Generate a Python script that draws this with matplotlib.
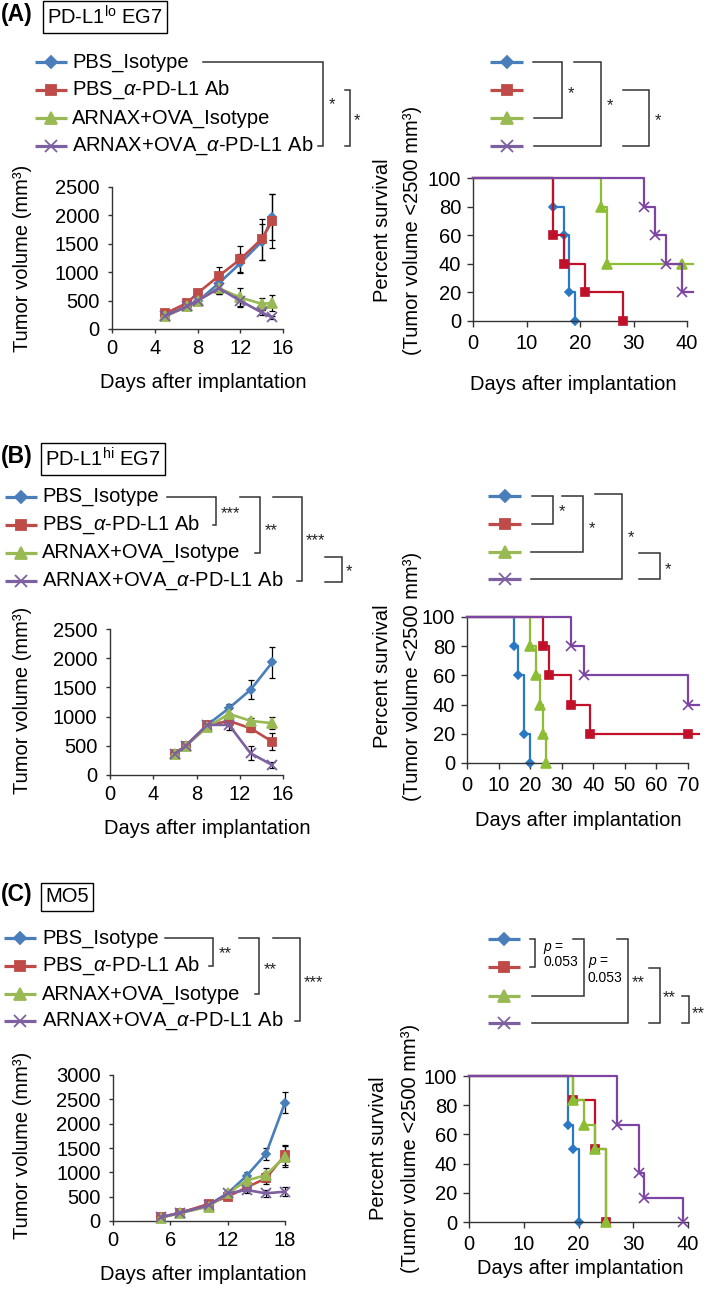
import matplotlib
matplotlib.use("Agg")
import matplotlib.pyplot as plt

plt.rcParams["font.family"] = ["Liberation Sans", "DejaVu Sans"]
plt.rcParams["mathtext.fontset"] = "custom"
plt.rcParams["mathtext.rm"] = "Liberation Sans"
plt.rcParams["mathtext.it"] = "Liberation Sans:italic"
plt.rcParams["mathtext.bf"] = "Liberation Sans:bold"

W, H = 709, 1289
FS = 14.5
INK = "#333333"

GROUPS = [
    "PBS_Isotype",
    "PBS_$\\alpha$-PD-L1 Ab",
    "ARNAX+OVA_Isotype",
    "ARNAX+OVA_$\\alpha$-PD-L1 Ab",
]
TUMOR_COLORS = ["#4A7EBB", "#BE4B48", "#98B954", "#7D60A0"]
SURV_COLORS = ["#2A78C4", "#C0102A", "#8CBD34", "#7D45A3"]
MARKERS = ["D", "s", "^", "x"]
MSIZE = [4.5, 6, 6.5, 6.5]

# ---- (A) PD-L1 lo EG7 ----
days_a = [5, 7, 8, 10, 12, 14, 15]
vol_a = [
    [240, 385, 485, 806, 1157, 1536, 1974],
    [275, 455, 630, 935, 1227, 1583, 1900],
    [222, 397, 497, 718, 555, 444, 455],
    [230, 400, 497, 718, 497, 292, 204],
]
err_a = [
    [30, 40, 60, 170, 170, 320, 410],
    [30, 50, 70, 160, 230, 360, 480],
    [25, 40, 50, 100, 160, 110, 145],
    [25, 40, 50, 100, 90, 50, 30],
]
surv_days_a = [[15, 17, 18, 19], [15, 17, 21, 28], [24, 25], [32, 34, 36, 39]]
surv_pct_a = [[80, 60, 20, 0], [60, 40, 20, 0], [80, 40], [80, 60, 40, 20]]
censor_a = [[], [], [39], []]

# ---- (B) PD-L1 hi EG7 ----
days_b = [6, 7, 9, 11, 13, 15]
vol_b = [
    [360, 498, 858, 1144, 1459, 1928],
    [360, 500, 850, 927, 800, 572],
    [360, 498, 818, 1047, 927, 887],
    [365, 495, 858, 858, 372, 172],
]
err_b = [
    [30, 40, 60, 80, 160, 270],
    [30, 40, 60, 90, 70, 150],
    [30, 40, 50, 90, 50, 100],
    [30, 40, 60, 90, 120, 55],
]
surv_days_b = [[15, 16, 18, 20], [24, 26, 33, 39], [20, 22, 23, 24, 25], [33, 37, 70]]
surv_pct_b = [[80, 60, 20, 0], [80, 60, 40, 20], [80, 60, 40, 20, 0], [80, 60, 40]]
censor_b = [[], [70], [], []]

# ---- (C) MO5 ----
days_c = [5, 7, 10, 12, 14, 16, 18]
vol_c = [
    [75, 171, 329, 568, 932, 1377, 2432],
    [75, 165, 350, 500, 692, 877, 1356],
    [70, 160, 295, 568, 829, 945, 1322],
    [75, 165, 320, 568, 637, 568, 603],
]
err_c = [
    [15, 25, 40, 50, 70, 130, 220],
    [15, 25, 40, 50, 80, 120, 200],
    [15, 25, 40, 50, 70, 150, 220],
    [15, 25, 40, 50, 70, 70, 90],
]
surv_days_c = [[18, 19, 20], [19, 23, 25], [19, 21, 23, 25], [27, 31, 32, 39]]
surv_pct_c = [[66.7, 50, 0], [83.3, 50, 0], [83.3, 66.7, 50, 0], [66.7, 33.3, 16.7, 0]]
censor_c = [[], [], [], []]


def px_axes(fig, x0, y0, x1, y1):
    return fig.add_axes([x0 / W, 1 - y1 / H, (x1 - x0) / W, (y1 - y0) / H])


def style_axes(ax, length, padx, pady):
    for side in ("top", "right"):
        ax.spines[side].set_visible(False)
    for side in ("left", "bottom"):
        ax.spines[side].set_color(INK)
        ax.spines[side].set_linewidth(1.0)
    ax.tick_params(direction="out", length=length, width=1.0, color=INK, labelsize=FS)
    ax.tick_params(axis="x", pad=padx)
    ax.tick_params(axis="y", pad=pady)
    ax.patch.set_visible(False)


def tumor_panel(ax, days, vols, errs, xmax, xticks, ymax):
    for i, (v, e) in enumerate(zip(vols, errs)):
        ax.errorbar(days, v, yerr=e, fmt="none", ecolor="black", elinewidth=0.9,
                    capsize=2.3, capthick=0.9, zorder=2, clip_on=False)
    for i, v in enumerate(vols):
        ax.plot(days, v, color=TUMOR_COLORS[i], lw=1.9, marker=MARKERS[i],
                ms=MSIZE[i], mew=1.3, zorder=3 + i, clip_on=False)
    ax.set_xlim(0, xmax)
    ax.set_ylim(0, ymax)
    ax.set_xticks(xticks)
    ax.set_yticks(range(0, ymax + 1, 500))
    style_axes(ax, 3, 4.5, 6)


def survival_panel(ax, sdays, spct, censor, xmax, xend, xstep):
    for i in range(4):
        d, p = list(sdays[i]), list(spct[i])
        xs, ys = [0] + d, [100] + p
        if p[-1] > 0:
            xs.append(xend)
            ys.append(p[-1])
        ax.step(xs, ys, where="post", color=SURV_COLORS[i], lw=1.6,
                zorder=2 + i, clip_on=False)
        ax.plot(d, p, ls="none", color=SURV_COLORS[i], marker=MARKERS[i],
                ms=MSIZE[i], mew=1.2, zorder=2 + i, clip_on=False)
        if censor[i]:
            ax.plot(censor[i], [p[-1]] * len(censor[i]), ls="none",
                    color=SURV_COLORS[i], marker=MARKERS[i], ms=MSIZE[i],
                    mew=1.2, zorder=2 + i, clip_on=False)
    ax.set_xlim(0, xmax)
    ax.set_ylim(0, 100)
    ax.set_xticks(range(0, xmax + 1, xstep))
    ax.set_yticks(range(0, 101, 20))
    style_axes(ax, 4.5, 5, 4)


def legend_key(ov, x0, x1, y, i):
    ov.plot([x0, x1], [y, y], color=TUMOR_COLORS[i], lw=2.3, solid_capstyle="butt")
    ov.plot([(x0 + x1) / 2], [y], color=TUMOR_COLORS[i], marker=MARKERS[i],
            ms=MSIZE[i] + 1.5, mew=1.3)


def bracket(ov, pts):
    xs, ys = zip(*pts)
    ov.plot(xs, ys, color=INK, lw=1.1, solid_joinstyle="miter")


def stars(ov, x, y, s):
    ov.text(x, y + 4, s, fontsize=12, ha="left", va="center", color="#222222")


def panel_tag(ov, y, tag, box_text, box_x):
    ov.text(1, y, tag, fontsize=16.5, fontweight="bold", ha="left", va="center")
    ov.text(box_x, y + 2, box_text, fontsize=FS, ha="left", va="center",
            bbox=dict(boxstyle="square,pad=0.22", fc="white", ec="black", lw=1.0))


def group_legend(ov, rows, x0, x1, tx):
    for i, y in enumerate(rows):
        legend_key(ov, x0, x1, y, i)
        ov.text(tx, y, GROUPS[i], fontsize=FS, ha="left", va="center")


def label_pos(ax, ov, xl, yl, xs_px, ys_px):
    ax.set_xlabel(xl, fontsize=FS)
    ax.xaxis.set_label_coords(xs_px[0], xs_px[1], transform=ov.transData)
    ax.xaxis.label.set_va("center")
    if yl is not None:
        ax.set_ylabel(yl, fontsize=FS)
        ax.yaxis.set_label_coords(ys_px[0], ys_px[1], transform=ov.transData)
        ax.yaxis.label.set_va("center")


def surv_ylabel(ov, yc, x1=382, x2=412):
    ov.text(x1, yc, "Percent survival", rotation=90, fontsize=FS, ha="center", va="center")
    ov.text(x2, yc, "(Tumor volume <2500 mm³)", rotation=90, fontsize=FS,
            ha="center", va="center")


def main():
    fig = plt.figure(figsize=(W / 100, H / 100), dpi=100)
    fig.patch.set_facecolor("white")

    ov = fig.add_axes([0, 0, 1, 1])
    ov.set_xlim(0, W)
    ov.set_ylim(H, 0)
    ov.axis("off")

    # ---------------- (A) ----------------
    panel_tag(ov, 15, "(A)", "PD-L1$^{\\rm lo}$ EG7", 47)
    rows_a = [62, 90, 118, 146]
    group_legend(ov, rows_a, 35, 67, 72)
    bracket(ov, [(203, 62), (323, 62), (323, 146), (318, 146)])
    stars(ov, 329, 101, "*")
    bracket(ov, [(345, 90), (350, 90), (350, 146), (345, 146)])
    stars(ov, 354, 117, "*")

    srows_a = [62, 90, 118, 146]
    for i, y in enumerate(srows_a):
        legend_key(ov, 490, 523, y, i)
    bracket(ov, [(533, 62), (562, 62), (562, 118), (534, 118)])
    stars(ov, 568, 90, "*")
    bracket(ov, [(574, 62), (601, 62), (601, 146), (534, 146)])
    stars(ov, 607, 102, "*")
    bracket(ov, [(623, 90), (649, 90), (649, 146), (623, 146)])
    stars(ov, 655, 117, "*")

    ax = px_axes(fig, 112, 187, 283, 329)
    tumor_panel(ax, days_a, vol_a, err_a, 16, [0, 4, 8, 12, 16], 2500)
    label_pos(ax, ov, "Days after implantation", "Tumor volume (mm³)", (203, 383), (23, 258))

    ax = px_axes(fig, 473, 178, 687, 321)
    survival_panel(ax, surv_days_a, surv_pct_a, censor_a, 40, 41.2, 10)
    label_pos(ax, ov, "Days after implantation", None, (573, 384), None)
    surv_ylabel(ov, 230)

    # ---------------- (B) ----------------
    panel_tag(ov, 457, "(B)", "PD-L1$^{\\rm hi}$ EG7", 45)
    rows_b = [497, 525, 553, 581]
    group_legend(ov, rows_b, 5, 37, 42)
    bracket(ov, [(167, 497), (216, 497), (216, 525), (213, 525)])
    stars(ov, 221, 510, "***")
    bracket(ov, [(240, 497), (260, 497), (260, 553), (255, 553)])
    stars(ov, 265, 527, "**")
    bracket(ov, [(273, 497), (302, 497), (302, 581), (297, 581)])
    stars(ov, 306, 537, "***")
    bracket(ov, [(325, 557), (342, 557), (342, 582), (325, 582)])
    stars(ov, 346, 568, "*")

    srows_b = [496, 524, 552, 579]
    for i, y in enumerate(srows_b):
        legend_key(ov, 488, 521, y, i)
    bracket(ov, [(532, 496), (553, 496), (553, 524), (532, 524)])
    stars(ov, 559, 508, "*")
    bracket(ov, [(562, 496), (583, 496), (583, 552), (531, 552)])
    stars(ov, 589, 525, "*")
    bracket(ov, [(595, 494), (622, 494), (622, 579), (531, 579)])
    stars(ov, 628, 534, "*")
    bracket(ov, [(639, 553), (660, 553), (660, 579), (639, 579)])
    stars(ov, 665, 566, "*")

    ax = px_axes(fig, 110, 629, 283, 775)
    tumor_panel(ax, days_b, vol_b, err_b, 16, [0, 4, 8, 12, 16], 2500)
    label_pos(ax, ov, "Days after implantation", "Tumor volume (mm³)", (207, 828), (23, 700))

    ax = px_axes(fig, 467, 617, 688, 763)
    survival_panel(ax, surv_days_b, surv_pct_b, censor_b, 70, 73.5, 10)
    label_pos(ax, ov, "Days after implantation", None, (578, 820), None)
    surv_ylabel(ov, 676)

    # ---------------- (C) ----------------
    panel_tag(ov, 895, "(C)", "MO5", 45)
    rows_c = [938, 966, 994, 1021]
    group_legend(ov, rows_c, 4, 36, 42)
    bracket(ov, [(165, 938), (213, 938), (213, 966), (209, 966)])
    stars(ov, 219, 950, "**")
    bracket(ov, [(239, 938), (259, 938), (259, 994), (255, 994)])
    stars(ov, 264, 966, "**")
    bracket(ov, [(273, 938), (300, 938), (300, 1021), (295, 1021)])
    stars(ov, 304, 979, "***")

    srows_c = [939, 967, 996, 1023]
    for i, y in enumerate(srows_c):
        legend_key(ov, 488, 520, y, i)
    bracket(ov, [(530, 939), (535, 939), (535, 967), (530, 967)])
    ov.text(543, 955, "$p$ =\n0.053", fontsize=10, ha="left", va="center", linespacing=1.0)
    bracket(ov, [(573, 939), (584, 939), (584, 996), (532, 996)])
    ov.text(588, 970, "$p$ =\n0.053", fontsize=10, ha="left", va="center", linespacing=1.0)
    bracket(ov, [(617, 939), (628, 939), (628, 1023), (532, 1023)])
    stars(ov, 632, 979, "**")
    bracket(ov, [(649, 968), (660, 968), (660, 1023), (649, 1023)])
    stars(ov, 663, 994, "**")
    bracket(ov, [(682, 996), (689, 996), (689, 1023), (682, 1023)])
    stars(ov, 692, 1010, "**")

    ax = px_axes(fig, 113, 1075, 285, 1221)
    tumor_panel(ax, days_c, vol_c, err_c, 18, [0, 6, 12, 18], 3000)
    label_pos(ax, ov, "Days after implantation", "Tumor volume (mm³)", (203, 1275), (23, 1145))

    ax = px_axes(fig, 469, 1076, 688, 1222)
    survival_panel(ax, surv_days_c, surv_pct_c, censor_c, 40, 40, 10)
    label_pos(ax, ov, "Days after implantation", None, (580, 1268), None)
    surv_ylabel(ov, 1148, 378, 410)

    fig.savefig("out.png", dpi=100, facecolor="white")
    plt.close(fig)


if __name__ == "__main__":
    main()
